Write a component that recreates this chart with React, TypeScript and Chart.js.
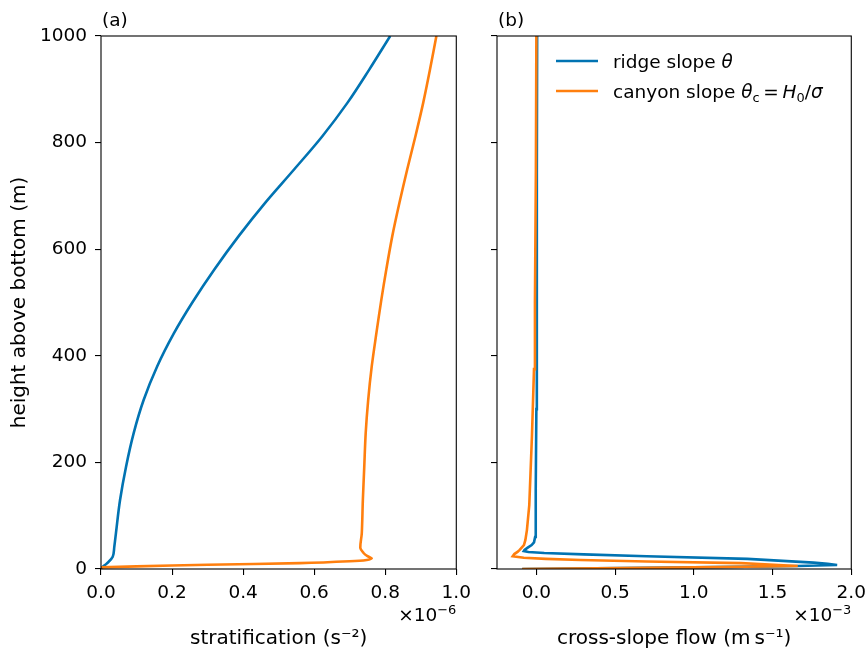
import React, { useEffect, useRef } from 'react';
import { Chart, registerables } from 'chart.js';
Chart.register(...registerables);

// ---------- data ----------
const heightTicks = [0, 200, 400, 600, 800, 1000];
const stratTicks = [0, 0.2, 0.4, 0.6, 0.8, 1.0]; // ×10⁻⁶ s⁻²
const flowTicks = [0, 0.5, 1.0, 1.5, 2.0]; // ×10⁻³ m s⁻¹

// panel (a): stratification, ridge slope
const ridgeStratHeight = [0, 4, 10, 23, 42, 67, 129, 192, 255, 317, 380, 442, 500, 562, 625, 687, 750, 812, 875, 937, 1000];
const ridgeStratValue = [0, 0.005, 0.016, 0.033, 0.0375, 0.042, 0.0535, 0.0705, 0.092, 0.12, 0.158, 0.205, 0.257, 0.319, 0.388, 0.462, 0.544, 0.623, 0.694, 0.755, 0.814];

// panel (a): stratification, canyon slope
const canyonStratHeight = [3, 5, 8, 11, 14.5, 17, 20, 24, 30, 39, 67, 129, 192, 255, 317, 380, 442, 505, 562, 625, 687, 750, 812, 875, 937, 1000];
const canyonStratValue = [0, 0.1, 0.3, 0.56, 0.7, 0.748, 0.762, 0.75, 0.739, 0.73, 0.734, 0.737, 0.741, 0.745, 0.752, 0.762, 0.775, 0.789, 0.803, 0.82, 0.84, 0.862, 0.885, 0.907, 0.926, 0.944];

// panel (b): cross-slope flow, ridge slope
const ridgeFlowHeight = [0, 3, 5.6, 7.5, 10, 12, 19, 24, 27.5, 30, 32, 33.5, 36, 40, 45, 50, 60, 80, 150, 300, 500, 750, 1000];
const ridgeFlowValue = [-0.09, 1.0, 1.66, 1.91, 1.85, 1.76, 1.34, 0.7, 0.3, 0.05, -0.05, -0.08, -0.075, -0.055, -0.03, -0.015, -0.008, -0.005, -0.003, 0.0, 0.002, 0.004, 0.005];

// panel (b): cross-slope flow, canyon slope
const canyonFlowHeight = [0, 3, 5.6, 9, 11, 14, 17, 19, 21, 24, 28, 32, 36, 45, 54, 73, 120, 250, 375, 500, 750, 1000];
const canyonFlowValue = [-0.09, 1.0, 1.66, 1.45, 1.3, 0.7, 0.28, 0.06, -0.08, -0.15, -0.14, -0.12, -0.106, -0.079, -0.07, -0.06, -0.045, -0.028, -0.015, -0.009, -0.003, 0.0];

const seriesLabels = ['ridge slope', 'canyon slope'];
const BLUE = '#0173B2';
const ORANGE = '#FF7F0E';
const FONT = "'DejaVu Sans', sans-serif";
const FS = 18.5; // tick / legend font
const TS = 20; // axis title font

const toPoints = (hs: number[], vs: number[]) => hs.map((h, i) => ({ x: vs[i], y: h }));

function drawSci(ctx: CanvasRenderingContext2D, right: number, baseline: number, exp: string) {
  ctx.save();
  ctx.fillStyle = '#000';
  ctx.textBaseline = 'alphabetic';
  ctx.textAlign = 'left';
  ctx.font = `${FS}px ${FONT}`;
  const base = '×10';
  const w1 = ctx.measureText(base).width;
  ctx.font = `${FS * 0.7}px ${FONT}`;
  const w2 = ctx.measureText(exp).width;
  const x0 = right - w1 - w2;
  ctx.font = `${FS}px ${FONT}`;
  ctx.fillText(base, x0, baseline);
  ctx.font = `${FS * 0.7}px ${FONT}`;
  ctx.fillText(exp, x0 + w1, baseline - 7);
  ctx.restore();
}

type Piece = { t: string; italic?: boolean; sub?: boolean };
function drawRich(ctx: CanvasRenderingContext2D, x: number, baseline: number, pieces: Piece[]) {
  ctx.save();
  ctx.fillStyle = '#000';
  ctx.textBaseline = 'alphabetic';
  ctx.textAlign = 'left';
  let cx = x;
  for (const p of pieces) {
    const size = p.sub ? FS * 0.7 : FS;
    ctx.font = `${p.italic ? 'italic ' : ''}${size}px ${FONT}`;
    ctx.fillText(p.t, cx, baseline + (p.sub ? 4 : 0));
    cx += ctx.measureText(p.t).width;
  }
  ctx.restore();
}

const framePlugin = {
  id: 'frame',
  afterDraw(chart: any) {
    const { ctx, chartArea: a } = chart;
    ctx.save();
    ctx.strokeStyle = '#000';
    ctx.lineWidth = 1.1;
    ctx.strokeRect(a.left, a.top, a.right - a.left, a.bottom - a.top);
    ctx.restore();
  },
};

const annotA = {
  id: 'annotA',
  afterDraw(chart: any) {
    const { ctx, chartArea: a } = chart;
    ctx.save();
    ctx.fillStyle = '#000';
    ctx.font = `${FS}px ${FONT}`;
    ctx.textBaseline = 'alphabetic';
    ctx.fillText('(a)', a.left + 1, 26);
    ctx.restore();
    drawSci(ctx, a.right, 620.5, '−6');
  },
};

const annotB = {
  id: 'annotB',
  afterDraw(chart: any) {
    const { ctx, chartArea: a } = chart;
    ctx.save();
    ctx.fillStyle = '#000';
    ctx.font = `${FS}px ${FONT}`;
    ctx.textBaseline = 'alphabetic';
    ctx.fillText('(b)', a.left + 1, 26);
    ctx.restore();
    drawSci(ctx, a.right, 620.5, '−3');
    // legend
    const rows = [
      { color: BLUE, y: a.top + 25, pieces: [{ t: seriesLabels[0] + ' ' }, { t: 'θ', italic: true }] },
      {
        color: ORANGE,
        y: a.top + 55,
        pieces: [
          { t: seriesLabels[1] + ' ' },
          { t: 'θ', italic: true },
          { t: 'c', sub: true },
          { t: '\u2009=\u2009' },
          { t: 'H', italic: true },
          { t: '0', sub: true },
          { t: '/' },
          { t: 'σ', italic: true },
        ],
      },
    ];
    for (const r of rows) {
      ctx.save();
      ctx.strokeStyle = r.color;
      ctx.lineWidth = 2.6;
      ctx.beginPath();
      ctx.moveTo(a.left + 59, r.y);
      ctx.lineTo(a.left + 101, r.y);
      ctx.stroke();
      ctx.restore();
      drawRich(ctx, a.left + 116, r.y + 6.5, r.pieces);
    }
  },
};

function axisCommon() {
  return {
    type: 'linear' as const,
    grid: { display: true, drawOnChartArea: false, drawTicks: true, tickLength: 6, color: '#000', lineWidth: 1.1 },
    border: { display: false },
  };
}

// lower "order" is painted last (on top): orange sits above blue, as in the original
function makeDataset(label: string, hs: number[], vs: number[], color: string, tension: number, order: number) {
  return {
    label,
    data: toPoints(hs, vs),
    showLine: true,
    borderColor: color,
    backgroundColor: color,
    borderWidth: 2.6,
    pointRadius: 0,
    tension,
    fill: false,
    order,
  };
}

// canvas geometry (the last x tick label reserves ~22px to the right of each plot)
const CANVAS_A = { left: 0, width: 478 };
const CANVAS_B = { left: 470, width: 403 };

export default function App() {
  const refA = useRef<HTMLCanvasElement>(null);
  const refB = useRef<HTMLCanvasElement>(null);

  useEffect(() => {
    const tickFont = { family: FONT, size: FS };
    const titleFont = { family: FONT, size: TS };
    const chartA = new Chart(refA.current!, {
      type: 'scatter',
      data: {
        datasets: [
          makeDataset(seriesLabels[0], ridgeStratHeight, ridgeStratValue, BLUE, 0.35, 2),
          makeDataset(seriesLabels[1], canyonStratHeight, canyonStratValue, ORANGE, 0.3, 1),
        ],
      },
      options: {
        animation: false,
        responsive: false,
        layout: { padding: { top: 36, right: 9, left: 0, bottom: 0 } },
        plugins: { legend: { display: false }, tooltip: { enabled: false } },
        scales: {
          x: {
            ...axisCommon(),
            min: 0,
            max: 1,
            afterBuildTicks: (s: any) => { s.ticks = stratTicks.map((v) => ({ value: v })); },
            afterFit: (s: any) => { s.height = 84; },
            ticks: { font: tickFont, color: '#000', padding: 7, maxRotation: 0, autoSkip: false, callback: (v: any) => Number(v).toFixed(1) },
            title: { display: true, text: 'stratification (s⁻²)', font: titleFont, color: '#000', padding: { top: 0, bottom: 2 } },
          },
          y: {
            ...axisCommon(),
            min: 0,
            max: 1000,
            afterBuildTicks: (s: any) => { s.ticks = heightTicks.map((v) => ({ value: v })); },
            afterFit: (s: any) => { s.width = 101; },
            ticks: { font: tickFont, color: '#000', padding: 8, autoSkip: false, callback: (v: any) => String(v) },
            title: { display: true, text: 'height above bottom (m)', font: titleFont, color: '#000', padding: { top: 8, bottom: 0 } },
          },
        },
      },
      plugins: [framePlugin, annotA],
    } as any);

    const chartB = new Chart(refB.current!, {
      type: 'scatter',
      data: {
        datasets: [
          makeDataset(seriesLabels[0], ridgeFlowHeight, ridgeFlowValue, BLUE, 0, 2),
          makeDataset(seriesLabels[1], canyonFlowHeight, canyonFlowValue, ORANGE, 0, 1),
        ],
      },
      options: {
        animation: false,
        responsive: false,
        layout: { padding: { top: 36, right: 9, left: 0, bottom: 0 } },
        plugins: { legend: { display: false }, tooltip: { enabled: false } },
        scales: {
          x: {
            ...axisCommon(),
            min: -0.25,
            max: 2.0,
            afterBuildTicks: (s: any) => { s.ticks = flowTicks.map((v) => ({ value: v })); },
            afterFit: (s: any) => { s.height = 84; },
            ticks: { font: tickFont, color: '#000', padding: 7, maxRotation: 0, autoSkip: false, callback: (v: any) => Number(v).toFixed(1) },
            title: { display: true, text: 'cross-slope flow (m\u2009s⁻¹)', font: titleFont, color: '#000', padding: { top: 0, bottom: 2 } },
          },
          y: {
            ...axisCommon(),
            min: 0,
            max: 1000,
            afterBuildTicks: (s: any) => { s.ticks = heightTicks.map((v) => ({ value: v })); },
            afterFit: (s: any) => { s.width = 27; },
            ticks: { font: tickFont, color: '#000', padding: 0, autoSkip: false, callback: () => '' },
            title: { display: false },
          },
        },
      },
      plugins: [framePlugin, annotB],
    } as any);

    return () => {
      chartA.destroy();
      chartB.destroy();
    };
  }, []);

  return (
    <div style={{ position: 'absolute', left: 0, top: 0, width: 866, height: 653, background: '#fff', overflow: 'hidden' }}>
      <canvas ref={refA} width={CANVAS_A.width} height={653} style={{ position: 'absolute', left: CANVAS_A.left, top: 0, width: CANVAS_A.width, height: 653 }} />
      <canvas ref={refB} width={CANVAS_B.width} height={653} style={{ position: 'absolute', left: CANVAS_B.left, top: 0, width: CANVAS_B.width, height: 653 }} />
    </div>
  );
}
